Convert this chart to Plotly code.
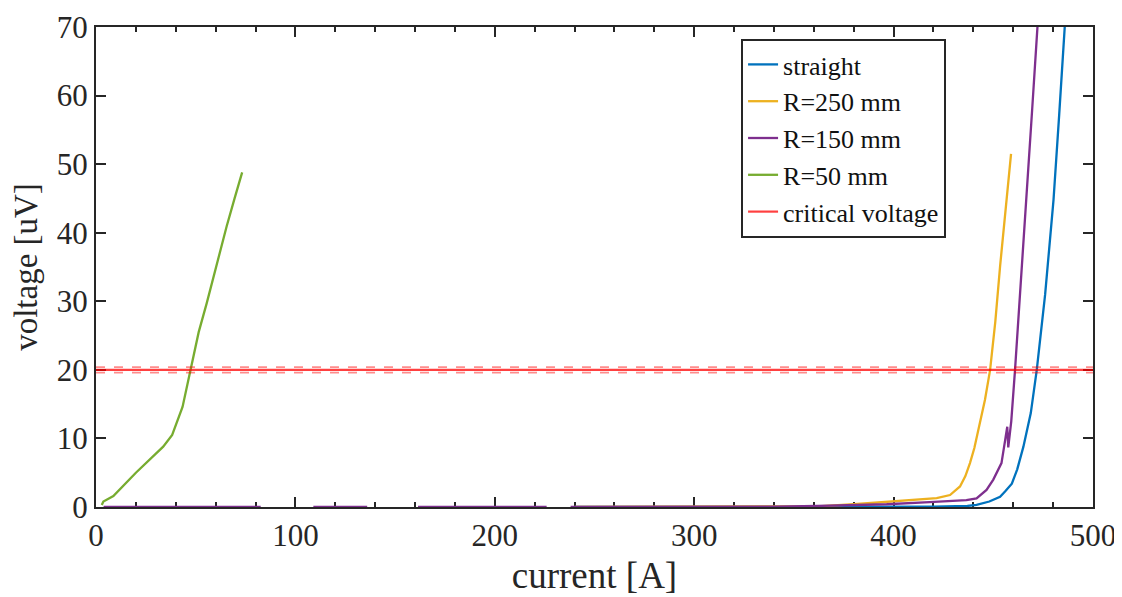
import plotly.graph_objects as go

# ---- data ----
straight_I = [240, 300, 350, 392, 420, 437, 441.6, 448, 453.4, 456, 459.3, 462, 465.1, 468.8, 471.8, 476, 480.2, 483, 485.7, 488]
straight_V = [0, 0, 0, 0, 0.05, 0.15, 0.3, 0.8, 1.5, 2.3, 3.4, 5.5, 8.8, 13.7, 20, 31, 44.8, 57, 69.8, 80]

r250_I = [240, 300, 316, 346, 362, 380, 400, 415, 421.6, 428.3, 433.3, 436, 438.3, 440.5, 442.5, 445.8, 448.4, 451, 453.4, 456, 458.9]
r250_V = [0, 0, 0, 0.05, 0.1, 0.4, 0.8, 1.1, 1.3, 1.75, 3.0, 4.5, 6.4, 8.6, 11.2, 15.6, 20, 27, 35.1, 43, 51.5]

r150_I = [3.8, 40, 82.6, None, 109, 136, None, 161.5, 226, None, 238, 300, 340, 362, 396.5, 418, 436.5, 441.6, 446.6, 450, 454.1, 455.8, 457.0, 457.5, 459, 460.9, 463, 466.7, 469.5, 472.1, 474]
r150_V = [0, 0, 0, None, 0, 0, None, 0, 0, None, 0, 0, 0.05, 0.15, 0.4, 0.7, 1.0, 1.26, 2.5, 4.0, 6.4, 9.5, 11.7, 8.7, 12.5, 20, 29, 44.8, 58, 69.8, 80]

r50_I = [2.9, 3.7, 8.7, 20, 33.7, 38.2, 43.4, 47, 51.5, 55.5, 60.5, 65.5, 69.5, 73.3]
r50_V = [0.3, 0.8, 1.6, 5.0, 8.8, 10.5, 14.6, 19.5, 25.5, 29.7, 35.5, 40.9, 45.0, 48.8]

crit_I = [0, 500]
crit_V = [20, 20]
crit_hi = [20.4, 20.4]
crit_lo = [19.6, 19.6]

FONT = "Liberation Serif"
LW = 2.3

fig = go.Figure()
fig.add_trace(go.Scatter(x=straight_I, y=straight_V, mode="lines", name="straight",
                         line=dict(color="#0072BD", width=LW)))
fig.add_trace(go.Scatter(x=r250_I, y=r250_V, mode="lines", name="R=250 mm",
                         line=dict(color="#EDB120", width=LW)))
fig.add_trace(go.Scatter(x=r150_I, y=r150_V, mode="lines", name="R=150 mm",
                         line=dict(color="#7E2F8E", width=LW), connectgaps=False))
fig.add_trace(go.Scatter(x=r50_I, y=r50_V, mode="lines", name="R=50 mm",
                         line=dict(color="#77AC30", width=LW)))
fig.add_trace(go.Scatter(x=crit_I, y=crit_V, mode="lines", name="critical voltage",
                         line=dict(color="rgba(255,0,0,0.75)", width=2.2)))
fig.add_trace(go.Scatter(x=crit_I, y=crit_hi, mode="lines", showlegend=False,
                         line=dict(color="rgba(255,0,0,0.45)", width=1.6, dash="dash")))
fig.add_trace(go.Scatter(x=crit_I, y=crit_lo, mode="lines", showlegend=False,
                         line=dict(color="rgba(255,0,0,0.45)", width=1.6, dash="dash")))

axis_common = dict(
    showgrid=False, zeroline=False, showline=True, linecolor="#262626", linewidth=2,
    mirror="allticks", ticks="inside", ticklen=10, tickwidth=2, tickcolor="#262626",
    tickfont=dict(family=FONT, size=31, color="#262626"), layer="below traces",
    automargin=False,
)

fig.update_xaxes(range=[0, 500], dtick=100, tick0=0,
                 title=dict(text="current [A]", font=dict(family=FONT, size=37, color="#262626"), standoff=10),
                 minor=dict(ticks="inside", dtick=20, ticklen=5, tickwidth=1.5, tickcolor="#262626"),
                 **axis_common)
fig.update_yaxes(range=[0, 70], dtick=10, tick0=0,
                 title=dict(text="voltage [uV]", font=dict(family=FONT, size=33, color="#262626"), standoff=16),
                 **axis_common)

fig.update_layout(
    width=1114, height=589,
    margin=dict(l=88, r=29, t=19, b=90),
    paper_bgcolor="white", plot_bgcolor="white",
    font=dict(family=FONT, color="#262626"),
    legend=dict(x=0.647, y=0.975, xanchor="left", yanchor="top",
                bgcolor="white", bordercolor="#262626", borderwidth=2,
                font=dict(family=FONT, size=26, color="#111111"),
                tracegroupgap=0, itemwidth=30),
    showlegend=True,
)

fig.write_html("out.html")
